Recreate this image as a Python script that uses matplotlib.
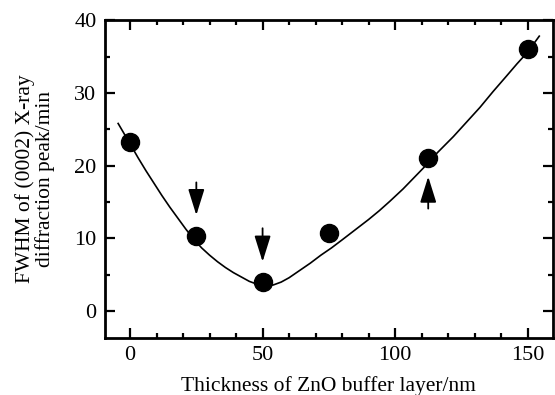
import matplotlib
matplotlib.use("Agg")
import matplotlib.pyplot as plt
from matplotlib.ticker import MultipleLocator

plt.rcParams['font.family'] = ['Liberation Serif', 'DejaVu Serif']

# Measured data points
thickness = [0, 25, 50, 75, 112.5, 150]
fwhm = [23.3, 10.4, 4.0, 10.7, 21.0, 36.0]

# Fitted guide curve
curve_x = [-4.5, 0, 3, 6, 9, 12, 15, 18, 21, 24, 27, 30, 33, 36, 39, 42, 45,
           48, 51, 54, 57, 60, 64, 68, 72, 76, 80, 85, 90, 94, 98, 103, 107,
           111, 116, 122, 127, 132, 137, 142, 146, 150, 154.4]
curve_y = [25.8, 23.0, 21.1, 19.3, 17.6, 15.9, 14.3, 12.8, 11.3, 9.9, 8.7,
           7.7, 6.8, 6.0, 5.3, 4.7, 4.1, 3.7, 3.5, 3.6, 4.0, 4.6, 5.6, 6.6,
           7.7, 8.7, 9.8, 11.2, 12.6, 13.8, 15.1, 16.8, 18.3, 19.8, 21.8,
           24.0, 26.0, 28.0, 30.2, 32.3, 34.0, 35.6, 37.8]

# Arrows: (x, tail y, head y)
arrow_x = [25, 50, 112.5]
arrow_tail = [17.7, 11.4, 14.1]
arrow_head = [13.2, 6.8, 18.5]

xlabel = "Thickness of ZnO buffer layer/nm"
ylabel = "FWHM of (0002) X-ray\ndiffraction peak/min"

fig = plt.figure(figsize=(5.55, 3.95), dpi=100)
ax = fig.add_axes([0.189, 0.144, 0.807, 0.805])

ax.plot(curve_x, curve_y, color='black', lw=1.2, zorder=2)
ax.plot(thickness, fwhm, 'o', color='black', ms=13, zorder=3)

for xa, yt, yh in zip(arrow_x, arrow_tail, arrow_head):
    ax.annotate('', xy=(xa, yh), xytext=(xa, yt),
                arrowprops=dict(arrowstyle='-|>,head_length=0.8,head_width=0.25',
                                color='black', lw=1.3, mutation_scale=20,
                                shrinkA=0, shrinkB=0), zorder=4)

ax.set_xlim(-9.5, 159.5)
ax.set_ylim(-3.7, 40)
ax.xaxis.set_major_locator(MultipleLocator(50))
ax.xaxis.set_minor_locator(MultipleLocator(10))
ax.yaxis.set_major_locator(MultipleLocator(10))
ax.yaxis.set_minor_locator(MultipleLocator(5))

ax.tick_params(which='both', direction='in', top=True, right=True,
               width=1.6, labelsize=16, colors='black')
ax.tick_params(which='major', length=7, pad=6)
ax.tick_params(which='minor', length=3.5)
for s in ax.spines.values():
    s.set_linewidth(2.0)

ax.set_xlabel(xlabel, fontsize=15.5, labelpad=8)
ax.set_ylabel(ylabel, fontsize=15.5, labelpad=14, linespacing=1.0)

fig.savefig('out.png', dpi=100)
